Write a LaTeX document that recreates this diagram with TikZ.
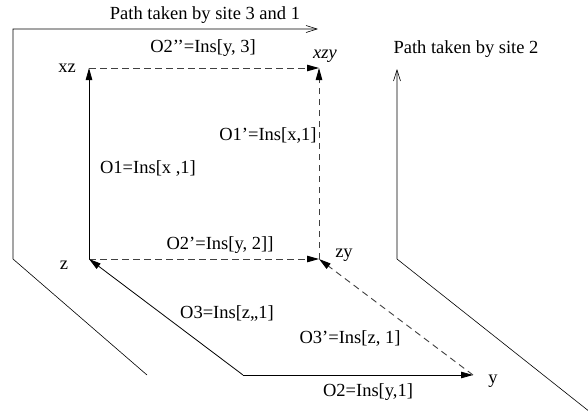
\documentclass[tikz,border=0pt]{standalone}
\usepackage{fontspec}
\setmainfont{Liberation Serif}
\newfontfamily\lserifit{Liberation Serif Italic}
\usetikzlibrary{arrows.meta}
\begin{document}
\begin{tikzpicture}[x=1pt,y=-1pt,
  lbl/.style={inner sep=0pt,font=\fontsize{18.5}{20}\selectfont},
  solidarr/.style={draw=black,line width=0.8pt,-{Triangle[length=12pt,width=6.5pt]}},
  dasharr/.style={draw=black!75,line width=0.9pt,dash pattern=on 6.5pt off 4.5pt,-{Triangle[length=12pt,width=6.5pt,fill=black,color=black]}},
  pathline/.style={draw=black,line width=0.6pt,-{Straight Barb[length=11pt,width=7pt]}}]
\useasboundingbox (0,0) rectangle (588,413);
% corners
\coordinate (XZ) at (89,68);
\coordinate (XZY) at (319,68);
\coordinate (Z) at (89,259);
\coordinate (ZY) at (319,259);
\coordinate (Y) at (473,375);
\coordinate (C) at (243,375);
% outer path coordinates
\coordinate (p1) at (147,375);
\coordinate (p2) at (13,259);
\coordinate (p3) at (13,29);
\coordinate (p4) at (318,29);
\coordinate (q1) at (590,412);
\coordinate (q2) at (397,259);
\coordinate (q3) at (397,69);
% paths taken
\draw[pathline] (p1) -- (p2) -- (p3) -- (p4);
\draw[pathline] (q1) -- (q2) -- (q3);
% inner arrows
\draw[solidarr] (Z) -- (XZ);
\draw[dasharr] (XZ) -- (XZY);
\draw[dasharr] (ZY) -- (XZY);
\draw[dasharr] (Z) -- (ZY);
\draw[solidarr] (C) -- (Z);
\draw[solidarr] (C) -- (Y);
\draw[dasharr] (Y) -- (ZY);
% labels
\node[lbl] (t31) at (205,15) {Path taken by site 3 and 1};
\node[lbl] (t2) at (466,49) {Path taken by site 2};
\node[lbl] (lxz) at (67,68) {xz};
\node[lbl] (lxzy) at (325,56) {\lserifit xzy};
\node[lbl] (lz) at (64,265) {z};
\node[lbl] (lzy) at (344,255) {zy};
\node[lbl] (ly) at (493,381) {y};
\node[lbl] (o2pp) at (203,48) {O2’’=Ins[y, 3]};
\node[lbl] (o1p) at (268,135) {O1’=Ins[x,1]};
\node[lbl] (o1) at (148,168) {O1=Ins[x ,1]};
\node[lbl] (o2p) at (220,245) {O2’=Ins[y, 2]]};
\node[lbl] (o3) at (227,313) {O3=Ins[z,,1]};
\node[lbl] (o3p) at (350,338) {O3’=Ins[z, 1]};
\node[lbl] (o2) at (368,392) {O2=Ins[y,1]};
\end{tikzpicture}
\end{document}
